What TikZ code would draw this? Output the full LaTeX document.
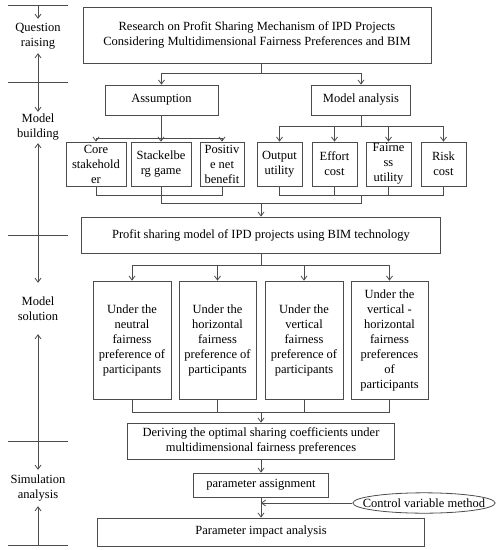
\documentclass[tikz,border=0pt]{standalone}
\usepackage{fontspec}
\setmainfont{Liberation Serif}
\usepackage{tikz}
\usetikzlibrary{arrows.meta, shapes.geometric}

\begin{document}
\begin{tikzpicture}[x=1pt, y=-1pt,
  font=\fontsize{12.5}{15}\selectfont,
  conn/.style={draw=black!70, line width=0.8pt},
  arr/.style={conn, -{Straight Barb[length=4pt, width=6pt]}},
  box/.style={draw=black!70, line width=0.8pt, align=center, inner sep=0pt},
  oval/.style={ellipse, draw=black!70, line width=0.8pt, inner xsep=-10.8pt, inner ysep=2.8pt},
  stage/.style={align=center, inner sep=0pt}]
\useasboundingbox (0,0) rectangle (500,550);

% Stages on the left
\foreach \i/\y in {0/5, 1/82, 2/235, 3/441, 4/545} {
  \coordinate (t\i) at (38,\y);
  \draw[conn] ([xshift=-30]t\i) -- ([xshift=30]t\i);
}
\node[stage, minimum height=34] (raise) at (38,36) {Question\\raising};
\node[stage, minimum height=31] (build) at (38,127.5) {Model\\building};
\node[stage, minimum height=51] (solve) at (38,308.5) {Model\\solution};
\node[stage, minimum height=36] (simul) at (38,488) {Simulation\\analysis};
\foreach \a/\n/\b in {0/raise/1, 1/build/2, 2/solve/3, 3/simul/4} {
  \draw[arr] (t\a) -- (\n.north);
  \draw[arr] (t\b) -- (\n.south);
}

% Question raising
\node[box, minimum width=348, minimum height=56] (title) at (257,35)
  {Research on Profit Sharing Mechanism of IPD Projects\\Considering Multidimensional Fairness Preferences and BIM};

% Model building
\node[box, minimum width=113, minimum height=30] (assume) at (161.5,100) {Assumption};
\node[box, minimum width=99, minimum height=30] (analysis) at (361,100) {Model analysis};
\node[box, minimum width=60, minimum height=44] (core) at (96,164) {Core\\stakehold\\er};
\node[box, minimum width=60, minimum height=44] (stack) at (161,164) {Stackelbe\\rg game};
\node[box, minimum width=44, minimum height=44] (positive) at (222,164) {Positiv\\e net\\benefit};
\node[box, minimum width=45, minimum height=44] (output) at (279.5,164) {Output\\utility};
\node[box, minimum width=45, minimum height=44] (effort) at (334.5,164) {Effort\\cost};
\node[box, minimum width=45, minimum height=44] (fair) at (388.5,164) {Fairne\\ss\\utility};
\node[box, minimum width=45, minimum height=44] (risk) at (443.5,164) {Risk\\cost};

\coordinate (j1) at (261,73);
\draw[conn] (title.south -| j1) -- (j1);
\draw[arr] (j1) -| (assume.north);
\draw[arr] (j1) -| (analysis.north);

\coordinate (j2) at (161.5,138);
\draw[conn] (assume.south) -- (j2);
\foreach \n in {core, stack, positive}
  \draw[arr] (j2) -| (\n.north);

\coordinate (j3) at (361,126);
\draw[conn] (analysis.south) -- (j3);
\foreach \n in {output, effort, fair, risk}
  \draw[arr] (j3) -| (\n.north);

\coordinate (j4) at (161,195);
\coordinate (j5) at (361,195);
\foreach \n in {core, stack, positive}
  \draw[conn] (\n.south) |- (j4);
\foreach \n in {output, effort, fair, risk}
  \draw[conn] (\n.south) |- (j5);

% Model solution
\node[box, minimum width=359, minimum height=36] (profit) at (261,235)
  {Profit sharing model of IPD projects using BIM technology};
\node[box, minimum width=78, minimum height=118] (neutral) at (132,340)
  {Under the\\neutral\\fairness\\preference of\\participants};
\node[box, minimum width=77, minimum height=118] (horiz) at (217.5,340)
  {Under the\\horizontal\\fairness\\preference of\\participants};
\node[box, minimum width=78, minimum height=118] (vert) at (304,340)
  {Under the\\vertical\\fairness\\preference of\\participants};
\node[box, minimum width=77, minimum height=118] (vh) at (389.5,340)
  {Under the\\vertical -\\horizontal\\fairness\\preferences\\of\\participants};

\coordinate (j6) at (261,203);
\draw[conn] (j4) -- (j4 |- j6) -- (j5 |- j6) -- (j5);
\draw[arr] (j6) -- (profit.north);

\coordinate (j7) at (261,265);
\draw[conn] (profit.south) -- (j7);
\foreach \n in {neutral, horiz, vert, vh}
  \draw[arr] (j7) -| (\n.north);

% Simulation analysis
\node[box, minimum width=267, minimum height=36] (derive) at (261,441)
  {Deriving the optimal sharing coefficients under\\multidimensional fairness preferences};
\node[box, minimum width=135, minimum height=24] (assign) at (261,485) {parameter assignment};
\node[box, minimum width=327, minimum height=28] (impact) at (261,532) {Parameter impact analysis};
\node[oval] (control) at (424,503) {Control variable method};

\coordinate (j8) at (261,412);
\foreach \n in {neutral, horiz, vert, vh}
  \draw[conn] (\n.south) |- (j8);
\draw[arr] (j8) -- (derive.north);
\draw[arr] (derive) -- (assign);
\draw[arr] (assign) -- (impact);
\draw[arr] (control.west) -- (control.west -| assign.south);
\end{tikzpicture}
\end{document}
